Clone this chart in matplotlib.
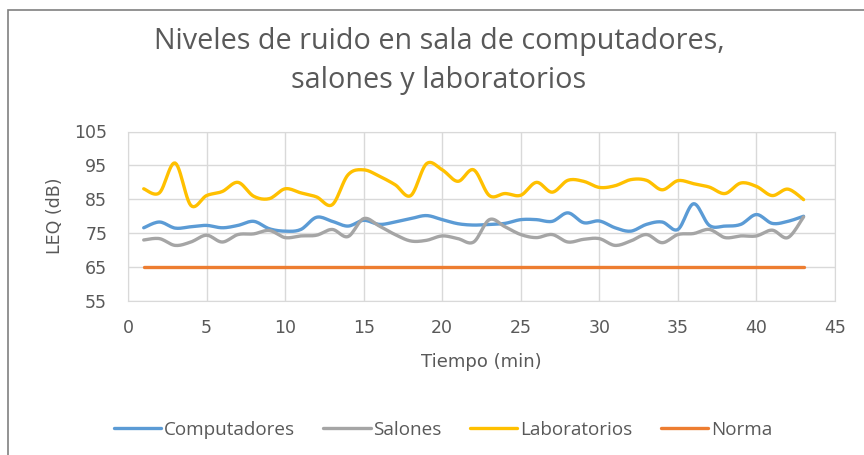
import numpy as np
import matplotlib
matplotlib.use("Agg")
import matplotlib.pyplot as plt
from matplotlib.patches import Rectangle

plt.rcParams['font.family'] = ['Open Sans', 'DejaVu Sans']

# data
minutos = list(range(1, 44))
computadores = [76.6, 78.3, 76.5, 76.9, 77.3, 76.6, 77.3, 78.5, 76.3, 75.6,
                76.1, 79.7, 78.5, 77.1, 78.8, 77.6, 78.3, 79.3, 80.2, 79.0,
                77.8, 77.4, 77.6, 77.9, 79.0, 79.0, 78.5, 81.0, 78.1, 78.6,
                76.6, 75.6, 77.6, 78.3, 76.1, 83.7, 77.3, 77.1, 77.6, 80.5,
                77.9, 78.5, 80.0]
salones = [73.0, 73.4, 71.4, 72.4, 74.4, 72.4, 74.6, 74.8, 75.8, 73.7,
           74.2, 74.4, 76.1, 74.0, 79.3, 77.1, 74.6, 72.7, 72.9, 74.2,
           73.4, 72.4, 79.0, 76.9, 74.6, 73.7, 74.6, 72.4, 73.2, 73.4,
           71.4, 72.7, 74.6, 72.2, 74.6, 74.9, 76.1, 73.7, 74.2, 74.2,
           75.9, 73.7, 79.8]
laboratorios = [88.1, 86.9, 95.7, 83.2, 86.1, 87.3, 90.0, 85.9, 85.2, 88.1,
                86.9, 85.7, 83.4, 92.2, 93.7, 91.8, 89.3, 86.1, 95.5, 93.7,
                90.3, 93.7, 86.1, 86.7, 86.2, 90.0, 87.1, 90.6, 90.3, 88.5,
                89.0, 90.8, 90.6, 87.8, 90.5, 89.6, 88.6, 86.7, 89.8, 88.8,
                86.1, 88.0, 84.9]
norma = [65] * 43

series = ["Computadores", "Salones", "Laboratorios", "Norma"]
colores = ["#5B9BD5", "#A5A5A5", "#FFC000", "#ED7D31"]


def suavizar(x, y, n=12):
    # Catmull-Rom curve through the points, like Excel's smoothed line
    x = np.asarray(x, float)
    y = np.asarray(y, float)
    px = np.concatenate([[x[0]], x, [x[-1]]])
    py = np.concatenate([[y[0]], y, [y[-1]]])
    t = np.linspace(0, 1, n, endpoint=False)
    xs, ys = [], []
    for i in range(1, len(px) - 2):
        for p, out in ((px, xs), (py, ys)):
            p0, p1, p2, p3 = p[i - 1], p[i], p[i + 1], p[i + 2]
            out.extend(0.5 * ((2 * p1) + (-p0 + p2) * t
                              + (2 * p0 - 5 * p1 + 4 * p2 - p3) * t ** 2
                              + (-p0 + 3 * p1 - 3 * p2 + p3) * t ** 3))
    xs.append(x[-1])
    ys.append(y[-1])
    return xs, ys


fig = plt.figure(figsize=(8.64, 4.55), dpi=100)
# chart frame
fig.patches.append(Rectangle((8 / 864, -0.01), 1.0, 1 - 10 / 455 + 0.01,
                             transform=fig.transFigure, fill=False,
                             edgecolor="#808080", linewidth=1.2))

ax = fig.add_axes([128 / 864, 1 - 301 / 455, (835 - 128) / 864, (301 - 131.5) / 455])

for nombre, valores, color in zip(series, [computadores, salones, laboratorios, norma], colores):
    xs, ys = suavizar(minutos, valores)
    ax.plot(xs, ys, color=color, linewidth=2.4, label=nombre, solid_capstyle="round")

ax.set_xlim(0, 45)
ax.set_ylim(55, 105)
ax.set_xticks(range(0, 46, 5))
ax.set_yticks(range(55, 106, 10))
ax.grid(True, color="#D9D9D9", linewidth=1)
ax.set_axisbelow(True)
for s in ax.spines.values():
    s.set_color("#D9D9D9")
ax.tick_params(length=0, labelsize=12.5, colors="#595959")
ax.tick_params(axis="x", pad=13)
ax.tick_params(axis="y", pad=15)
for lbl in ax.get_xticklabels() + ax.get_yticklabels():
    lbl.set_family("DejaVu Sans")

ax.set_xlabel("Tiempo (min)", fontsize=13, color="#595959", family="DejaVu Sans")
ax.set_ylabel("LEQ (dB)", fontsize=12.5, color="#595959", family="DejaVu Sans")
ax.xaxis.label.set_va("center")
ax.yaxis.label.set_va("center")
ax.xaxis.set_label_coords(0.5, (301 - 362) / 169.5)
ax.yaxis.set_label_coords((55 - 128) / 707, 0.5)

fig.text(439 / 864, 1 - 61 / 455, "Niveles de ruido en sala de computadores,\nsalones y laboratorios",
         ha="center", va="center", fontsize=20.7, color="#595959", linespacing=1.42)

fig.legend(loc="center", bbox_to_anchor=(443 / 864, 1 - 430 / 455), ncol=4, frameon=False,
           fontsize=13.6, labelcolor="#595959", handlelength=2.5, handletextpad=0.15,
           columnspacing=1.5)

fig.savefig("out.png", dpi=100)
